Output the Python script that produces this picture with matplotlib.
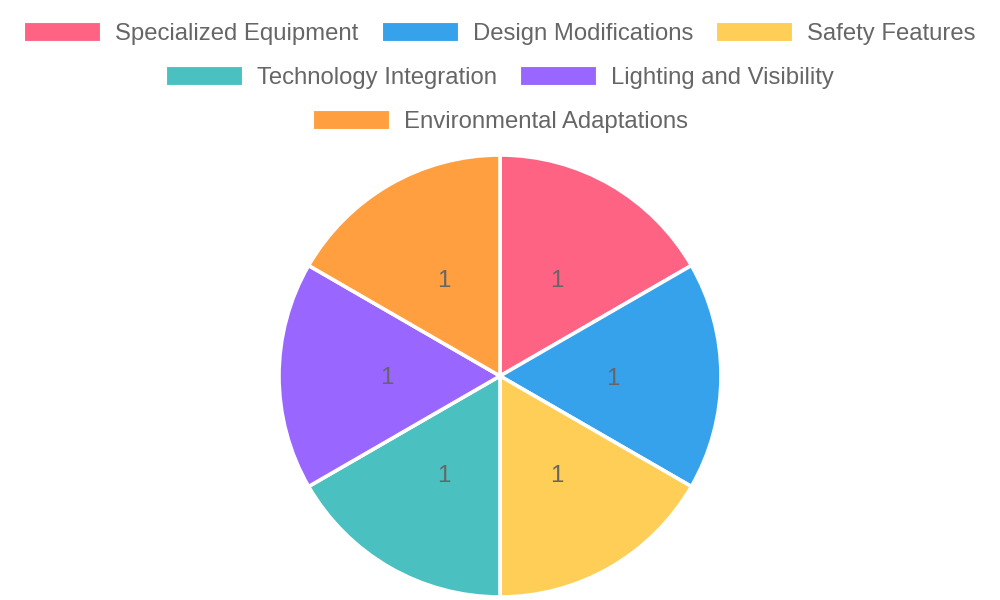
import matplotlib
matplotlib.use("Agg")
import matplotlib.pyplot as plt
from matplotlib.patches import Rectangle

categories = ["Specialized Equipment", "Design Modifications", "Safety Features",
              "Technology Integration", "Lighting and Visibility", "Environmental Adaptations"]
values = [1, 1, 1, 1, 1, 1]
colors = ["#FF6384", "#36A2EB", "#FFCE56", "#4BC0C0", "#9966FF", "#FF9F40"]
legend_rows = [[0, 1, 2], [3, 4], [5]]

W, H = 1000, 600
fig = plt.figure(figsize=(W / 100, H / 100), dpi=100)
plt.rcParams['font.family'] = ['Liberation Sans', 'DejaVu Sans']

# Pie axes: center (500, 376) px, radius 220 px
cx, cy, r = 500, 376, 221
ax = fig.add_axes([(cx - r) / W, (H - cy - r) / H, 2 * r / W, 2 * r / H])
wedges, texts = ax.pie(values, colors=colors, startangle=90, counterclock=False,
                       radius=1.0, labels=[str(v) for v in values], labeldistance=0.51,
                       wedgeprops=dict(edgecolor="white", linewidth=2.6),
                       textprops=dict(color="#666666", fontsize=17.3))
for t in texts:
    t.set_ha("center")
    t.set_va("center_baseline")
ax.set_xlim(-1, 1)
ax.set_ylim(-1, 1)
ax.set_aspect("auto")
ax.axis("off")

# Legend, drawn manually with centered rows
fs = 17.2
box_w, box_h = 76, 19
text_gap = 15
item_gap = 23
row_y = [31.5, 75.5, 119.5]
renderer = fig.canvas.get_renderer()

def text_width(s):
    t = fig.text(0, 0, s, fontsize=fs)
    w = t.get_window_extent(renderer=renderer).width
    t.remove()
    return w

for row, y in zip(legend_rows, row_y):
    widths = [box_w + text_gap + text_width(categories[i]) for i in row]
    total = sum(widths) + item_gap * (len(row) - 1)
    x = (W - total) / 2
    for i, w in zip(row, widths):
        fig.patches.append(Rectangle((x / W, (H - y - box_h / 2) / H), box_w / W, box_h / H,
                                     transform=fig.transFigure, facecolor=colors[i],
                                     edgecolor="white", linewidth=0.8))
        fig.text((x + box_w + text_gap) / W, (H - y) / H, categories[i], fontsize=fs,
                 color="#666666", ha="left", va="center_baseline")
        x += w + item_gap

fig.savefig("out.png", dpi=100, facecolor="white")
